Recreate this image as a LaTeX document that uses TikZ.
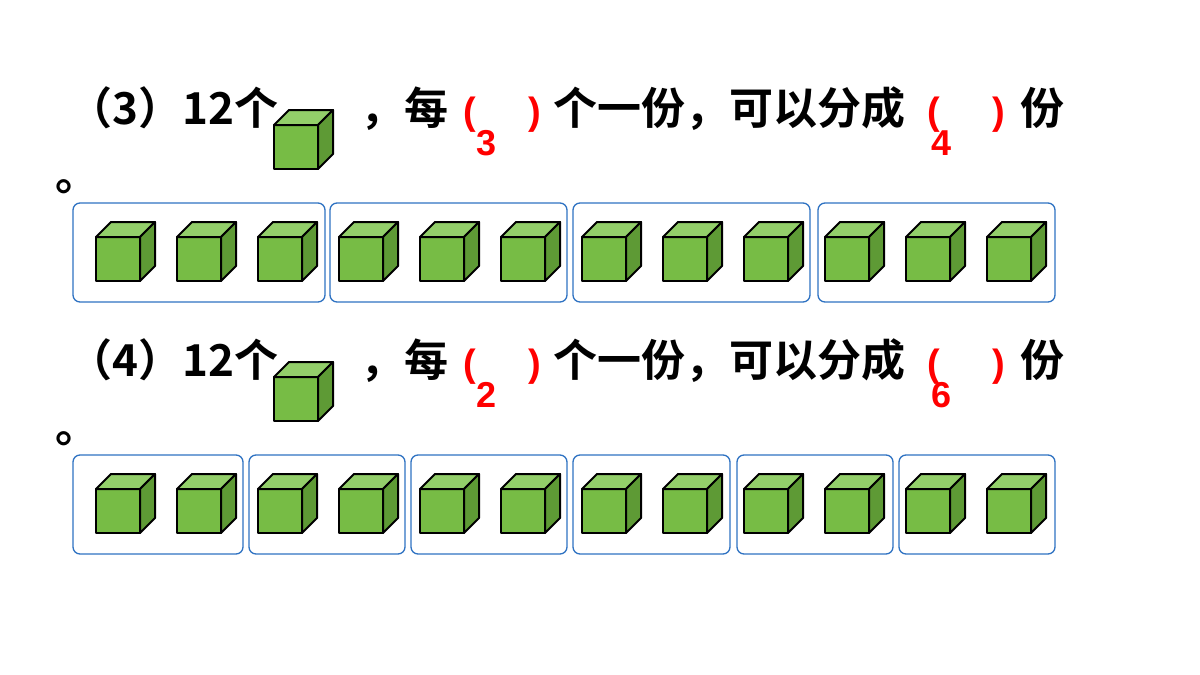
\documentclass[tikz,border=0pt]{standalone}
\usepackage{fontspec}
\setmainfont{Liberation Sans}
\newfontfamily\cjk{Noto Sans CJK SC Bold}
\definecolor{cubefront}{HTML}{77BC45}
\definecolor{cubetop}{HTML}{93CF6A}
\definecolor{cubeside}{HTML}{5E9A35}
\definecolor{boxblue}{HTML}{2E72C2}
\tikzset{
  cube/.pic={
    \draw[line width=2pt, line join=round, fill=cubefront] (0,0) rectangle (44,44);
    \draw[line width=2pt, line join=round, fill=cubetop] (0,0) -- (15,-15) -- (59,-15) -- (44,0) -- cycle;
    \draw[line width=2pt, line join=round, fill=cubeside] (44,0) -- (59,-15) -- (59,29) -- (44,44) -- cycle;
  },
  group/.style={draw=boxblue, line width=1.3pt, rounded corners=7pt},
  txt/.style={font=\cjk\fontsize{44}{44}\selectfont, anchor=base west, inner sep=0pt},
  par/.style={font=\bfseries\fontsize{38}{38}\selectfont, text=red, anchor=base west, inner sep=0pt},
  ans/.style={font=\bfseries\fontsize{36}{36}\selectfont, text=red, inner sep=0pt}
}
\begin{document}
\begin{tikzpicture}[x=1pt, y=-1pt]
\useasboundingbox (0,0) rectangle (1200,675);
% two questions
\foreach \q/\yo/\a/\b in {3/0/3/4, 4/252/2/6} {
  \begin{scope}[yshift=-\yo pt]
    \node[txt] (head\q) at (68,124) {（\q）12个};
    \pic at (274,125) {cube};
    \node[txt] (each\q) at (360,124) {，每};
    \node[par] (lpa\q) at (463,124) {(};
    \node[par] (rpa\q) at (528,124) {)};
    \node[txt] (mid\q) at (553,124) {个一份，可以分成};
    \node[par] (lpb\q) at (927,124) {(};
    \node[par] (rpb\q) at (992,124) {)};
    \node[txt] (tail\q) at (1020,124) {份};
    \node[ans] (ansa\q) at (487,143) {\a};
    \node[ans] (ansb\q) at (942,143) {\b};
    \node[txt] (dot\q) at (55,190) {。};
  \end{scope}
}
% groups of three
\foreach \x/\w in {73/252, 330/237, 573/237, 818/237}
  \draw[group] (\x,203) rectangle ++(\w,99);
% groups of two
\foreach \x/\w in {73/170, 249/156, 411/156, 573/157, 737/156, 899/156}
  \draw[group] (\x,455) rectangle ++(\w,99);
% cubes
\foreach \i in {0,...,11} {
  \pic at (96+81*\i,237) {cube};
  \pic at (96+81*\i,489) {cube};
}
\end{tikzpicture}
\end{document}
